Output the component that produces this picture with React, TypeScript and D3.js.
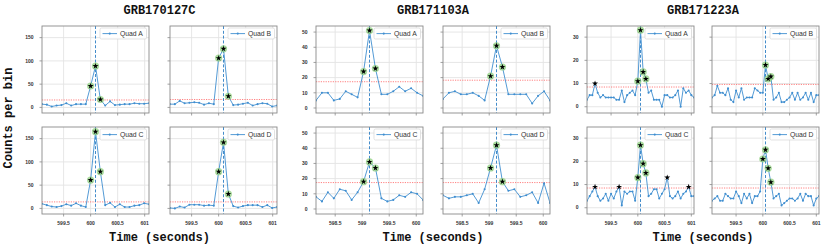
import React from 'react';
import * as d3 from 'd3';

// ---------------- DATA ----------------
const quadNames = ['Quad A', 'Quad B', 'Quad C', 'Quad D'];

// GRB170127C
const grb170127cStart = 599.1;
const grb170127cBin = 0.09;
const grb170127cQuadA = [7, 6, 2, 4, 5, 9, 4, 7, 7, 7, 46, 89, 17, 4, 13, 5, 6, 7, 7, 9, 8, 8, 9];
const grb170127cQuadB = [7, 7, 14, 9, 10, 11, 10, 6, 9, 7, 106, 126, 24, 5, 6, 8, 10, 4, 7, 9, 8, 2, 4];
const grb170127cQuadC = [10, 7, 4, 3, 5, 9, 6, 11, 6, 3, 61, 165, 79, 7, 12, 3, 9, 3, 3, 6, 7, 11, 9];
const grb170127cQuadD = [1, 0, 4, 2, 8, 8, 8, 6, 7, 6, 79, 142, 31, 5, 2, 5, 7, 7, 7, 3, 7, 1, 3];
const grb170127cThresholds = [16, 17, 14, 14];
const grb170127cTrigger = 600.09;
const grb170127cBurst = [599.95, 600.25];
const grb170127cXTicks = [599.5, 600, 600.5, 601];
const grb170127cYTicks = [0, 50, 100, 150];
const grb170127cYDomain = [-12, 175];

// GRB171103A
const grb171103aStart = 598.145;
const grb171103aBin = 0.11;
const grb171103aQuadA = [5, 10, 10, 5, 6, 11, 9, 7, 24, 51, 26, 9, 9, 11, 14, 11, 13, 10, 8];
const grb171103aQuadB = [6, 10, 11, 9, 9, 10, 8, 5, 21, 41, 27, 9, 9, 9, 9, 3, 8, 11, 5];
const grb171103aQuadC = [8, 5, 11, 7, 13, 12, 6, 11, 18, 31, 27, 7, 5, 6, 9, 8, 11, 10, 6];
const grb171103aQuadD = [9, 7, 8, 8, 9, 10, 4, 13, 27, 42, 18, 12, 13, 8, 9, 11, 4, 17, 4];
const grb171103aThresholds = [17.3, 18.3, 17.4, 17.4];
const grb171103aTrigger = 599.135;
const grb171103aBurst = [598.98, 599.3];
const grb171103aXTicks = [598.5, 599, 599.5, 600];
const grb171103aYTicks = [0, 10, 20, 30, 40, 50];
const grb171103aYDomain = [-3.3, 54];

// GRB171223A
const grb171223aStart = 599.05;
const grb171223aBin = 0.05;
const grb171223aQuadA = [3, 5, 5, 10, 6, 4, 5, 4, 4, 4, 4, 3, 3, 7, 2, 5, 6, 7, 5, 11, 33, 15, 12, 6, 7, 3, 3, 3, 0, 5, 5, 4, 4, 5, 7, 0, 8, 6, 7, 5, 4];
const grb171223aQuadB = [4, 5, 9, 6, 6, 5, 8, 3, 2, 7, 4, 8, 3, 4, 4, 4, 8, 7, 6, 6, 18, 12, 13, 3, 4, 6, 2, 2, 3, 4, 6, 3, 6, 3, 4, 6, 3, 6, 2, 5, 5];
const grb171223aQuadC = [3, 5, 7, 9, 5, 3, 4, 6, 3, 6, 4, 7, 9, 1, 7, 6, 7, 7, 3, 13, 27, 19, 15, 5, 6, 8, 8, 4, 6, 8, 13, 5, 4, 5, 7, 4, 6, 7, 9, 5, 5];
const grb171223aQuadD = [3, 4, 5, 3, 3, 6, 5, 4, 4, 7, 5, 2, 6, 4, 6, 2, 5, 5, 7, 21, 25, 17, 11, 4, 5, 6, 1, 2, 3, 4, 4, 3, 4, 6, 3, 6, 5, 5, 1, 4, 5];
const grb171223aThresholds = [8.5, 9.6, 8.5, 8.5];
const grb171223aTrigger = 600.05;
const grb171223aBurst = [599.97, 600.18];
const grb171223aXTicks = [599.5, 600, 600.5, 601];
const grb171223aYTicks = [0, 10, 20, 30];
const grb171223aYDomain = [-2.7, 34.8];

const grbs = [
  {
    name: 'GRB170127C', start: grb170127cStart, bin: grb170127cBin,
    quads: [grb170127cQuadA, grb170127cQuadB, grb170127cQuadC, grb170127cQuadD],
    thresholds: grb170127cThresholds, trigger: grb170127cTrigger, burst: grb170127cBurst,
    xTicks: grb170127cXTicks, yTicks: grb170127cYTicks, yDomain: grb170127cYDomain,
  },
  {
    name: 'GRB171103A', start: grb171103aStart, bin: grb171103aBin,
    quads: [grb171103aQuadA, grb171103aQuadB, grb171103aQuadC, grb171103aQuadD],
    thresholds: grb171103aThresholds, trigger: grb171103aTrigger, burst: grb171103aBurst,
    xTicks: grb171103aXTicks, yTicks: grb171103aYTicks, yDomain: grb171103aYDomain,
  },
  {
    name: 'GRB171223A', start: grb171223aStart, bin: grb171223aBin,
    quads: [grb171223aQuadA, grb171223aQuadB, grb171223aQuadC, grb171223aQuadD],
    thresholds: grb171223aThresholds, trigger: grb171223aTrigger, burst: grb171223aBurst,
    xTicks: grb171223aXTicks, yTicks: grb171223aYTicks, yDomain: grb171223aYDomain,
  },
];

// ---------------- LAYOUT ----------------
const W = 830;
const H = 247;
const panelW = 107;
const panelH = 87;
const colLefts = [[42, 170], [316, 443], [587, 712]];
const rowTops = [26, 127];

const LINE = '#3f8ed0';
const GRID = '#e3e3e3';
const SPINE = '#8a8a8a';
const TICKFONT = "'Liberation Sans', Arial, sans-serif";
const MONO = "'Courier New', 'Liberation Mono', monospace";

const starPath = d3.symbol(d3.symbolStar, 11)() as string;

function Panel({ g, gi, q }: { g: any; gi: number; q: number }) {
  const row = q < 2 ? 0 : 1;
  const col = q % 2;
  const left = colLefts[gi][col];
  const top = rowTops[row];
  const right = left + panelW;
  const bottom = top + panelH;
  const values: number[] = g.quads[q];
  const times = values.map((_, i) => g.start + i * g.bin);
  const x = d3.scaleLinear().domain([times[0], times[times.length - 1]]).range([left, right]);
  const y = d3.scaleLinear().domain(g.yDomain).range([bottom, top]);
  const line = d3.line<number>().x((_, i) => x(times[i])).y((d) => y(d));
  const thr = g.thresholds[q];
  const clipId = `clip-${gi}-${q}`;
  const above = values
    .map((v, i) => ({ v, t: times[i] }))
    .filter((d) => d.v > thr);
  const legX = right - 49;
  const legY = top + 2;
  return (
    <g>
      <defs>
        <clipPath id={clipId}>
          <rect x={left} y={top} width={panelW} height={panelH} />
        </clipPath>
      </defs>
      <rect x={left} y={top} width={panelW} height={panelH} fill="#fff" />
      {g.xTicks.map((t: number) => (
        <line key={'gx' + t} x1={x(t)} x2={x(t)} y1={top} y2={bottom} stroke={GRID} strokeWidth={0.9} />
      ))}
      {g.yTicks.map((t: number) => (
        <line key={'gy' + t} x1={left} x2={right} y1={y(t)} y2={y(t)} stroke={GRID} strokeWidth={0.9} />
      ))}
      <g clipPath={`url(#${clipId})`}>
        <line x1={left} x2={right} y1={y(thr)} y2={y(thr)} stroke="#ff5a5a" strokeOpacity={0.85} strokeWidth={0.9} strokeDasharray="1.2,1.2" />
        <line x1={x(g.trigger)} x2={x(g.trigger)} y1={top} y2={bottom} stroke="#2f7fc4" strokeWidth={0.9} strokeDasharray="3,1.8" />
        <path d={line(values) as string} fill="none" stroke={LINE} strokeWidth={0.9} />
        {values.map((v, i) => (
          <circle key={'m' + i} cx={x(times[i])} cy={y(v)} r={1.05} fill={LINE} />
        ))}
        {above
          .filter((d) => d.t >= g.burst[0] && d.t <= g.burst[1])
          .map((d, i) => (
            <circle key={'gr' + i} cx={x(d.t)} cy={y(d.v)} r={3.6} fill="#8fd07f" fillOpacity={0.75} />
          ))}
        {above.map((d, i) => (
          <path key={'st' + i} d={starPath} transform={`translate(${x(d.t)},${y(d.v)})`} fill="#000" />
        ))}
      </g>
      <rect x={left} y={top} width={panelW} height={panelH} fill="none" stroke={SPINE} strokeWidth={0.9} />
      {g.yTicks.map((t: number) => (
        <line key={'ty' + t} x1={left - 2.5} x2={left} y1={y(t)} y2={y(t)} stroke={SPINE} strokeWidth={0.8} />
      ))}
      {g.xTicks.map((t: number) => (
        <line key={'tx' + t} x1={x(t)} x2={x(t)} y1={bottom} y2={bottom + 2.5} stroke={SPINE} strokeWidth={0.8} />
      ))}
      {col === 0 &&
        g.yTicks.map((t: number) => (
          <text key={'ly' + t} x={left - 8.5} y={y(t)} dy="0.35em" textAnchor="end" fontFamily={TICKFONT} fontSize={5} fontWeight="bold" fill="#333">
            {t}
          </text>
        ))}
      {row === 1 &&
        g.xTicks.map((t: number) => (
          <text key={'lx' + t} x={x(t)} y={bottom + 10.8} textAnchor="middle" fontFamily={TICKFONT} fontSize={5} fontWeight="bold" fill="#333">
            {String(t)}
          </text>
        ))}
      <rect x={legX} y={legY} width={46.5} height={11} rx={1.5} fill="#fff" fillOpacity={0.9} stroke="#d6d6d6" strokeWidth={0.7} />
      <line x1={legX + 2.5} x2={legX + 17} y1={legY + 5.6} y2={legY + 5.6} stroke={LINE} strokeWidth={0.9} />
      <circle cx={legX + 9.75} cy={legY + 5.6} r={1.05} fill={LINE} />
      <text x={legX + 20} y={legY + 8} fontFamily={TICKFONT} fontSize={6.8} fill="#333">
        {quadNames[q]}
      </text>
    </g>
  );
}

export default function App() {
  return (
    <svg width={W} height={H} viewBox={`0 0 ${W} ${H}`} style={{ position: 'absolute', left: 0, top: 0, background: '#fff' }}>
      <rect x={0} y={0} width={W} height={H} fill="#fff" />
      {grbs.map((g, gi) => {
        const cx = (colLefts[gi][0] + colLefts[gi][1] + panelW) / 2;
        return (
          <g key={g.name}>
            <text x={cx} y={14} textAnchor="middle" fontFamily={MONO} fontWeight="bold" fontSize={12} fill="#111">
              {g.name}
            </text>
            {[0, 1, 2, 3].map((q) => (
              <Panel key={q} g={g} gi={gi} q={q} />
            ))}
            <text x={cx} y={240.5} textAnchor="middle" fontFamily={MONO} fontWeight="bold" fontSize={12} fill="#111">
              Time (seconds)
            </text>
          </g>
        );
      })}
      <text transform="translate(11.5,118) rotate(-90)" textAnchor="middle" fontFamily={MONO} fontWeight="bold" fontSize={12} fill="#111">
        Counts per bin
      </text>
    </svg>
  );
}
